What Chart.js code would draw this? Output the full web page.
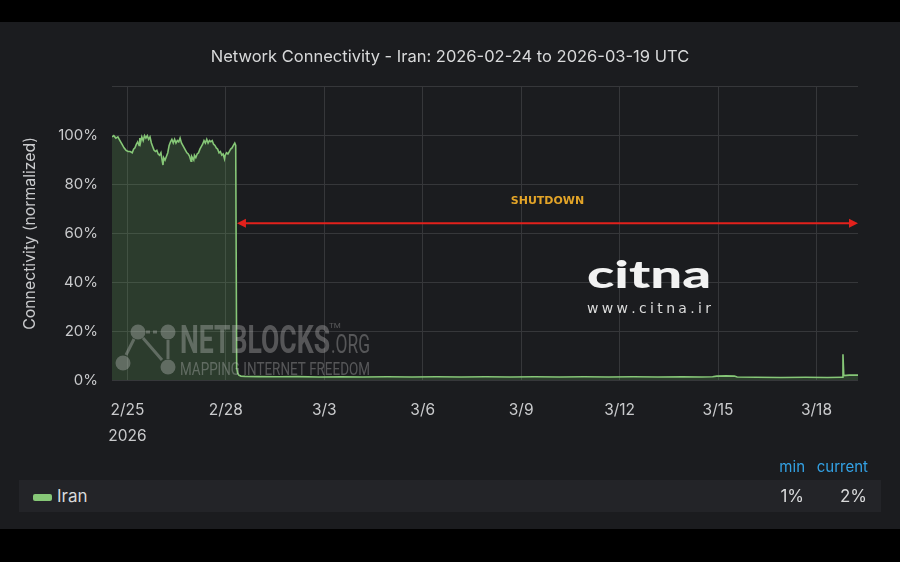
<!DOCTYPE html>
<html>
<head>
<meta charset="utf-8">
<script src="https://cdn.jsdelivr.net/npm/chart.js@4.4.1/dist/chart.umd.min.js"></script>
<style>
  html, body { margin: 0; padding: 0; background: #000; }
  body { width: 900px; height: 562px; position: relative; overflow: hidden; font-family: Inter, Roboto, sans-serif; }
  #panel { position: absolute; left: 0; top: 22px; width: 900px; height: 507px; background: #1b1c1f; }
  #wrap { position: absolute; left: 0; top: 0; width: 900px; height: 440px; }
  .head { position: absolute; top: 458px; font-size: 15px; line-height: 18px; color: #33a2e5; }
  #legendRow { position: absolute; left: 19px; top: 480px; width: 862px; height: 32px; background: #232428; }
  #legendRow span { position: absolute; top: 7px; font-size: 17px; line-height: 18px; color: #d8d9da; }
  #legendRow .swatch { left: 14px; top: 14px; width: 19px; height: 7px; border-radius: 2px; background: #86c777; }
</style>
</head>
<body>
<div id="panel">
  <div id="wrap"><canvas id="lineChart"></canvas></div>
</div>
<div class="head" style="right:95px">min</div>
<div class="head" style="right:32px">current</div>
<div id="legendRow">
  <span class="swatch"></span>
  <span style="left:38px">Iran</span>
  <span id="minVal" style="right:77px"></span>
  <span id="curVal" style="right:14px"></span>
</div>

<script>
var linecolor = "#86c777";
var gridcolor = "#36373a";
var textcolor = "#c9cacc";
var fontname = "Inter";

// x values are hours since 2026-02-25 00:00 UTC
const xMin = -11.3;
const xMax = 534.4;
const tickHours = [0, 72, 144, 216, 288, 360, 432, 504];
const tickLabels = ["2/25", "2/28", "3/3", "3/6", "3/9", "3/12", "3/15", "3/18"];
const yearLabel = "2026";
const yTicks = [0, 20, 40, 60, 80, 100];

const hours = [
    -11.3, -10, -8.5, -7, -5.5, -4, -2.5, -1, 0.5, 2, 3.5, 4.5, 5.5, 6.5, 7.5, 8.5, 9, 9.5,
    10.5, 11.5, 12.5, 13.5, 14.5, 15.5, 16.5, 17.5, 18.5, 19.5, 20.5, 21.5, 22.5, 23.5, 24.5,
    25.5, 26, 26.5, 27.5, 28.5, 29.5, 30.5, 31.5, 32.5, 33.5, 34.5, 35.5, 36.5, 37.5, 38.5,
    39.5, 40.5, 41.5, 42.5, 43.5, 44.5, 45.5, 46.5, 47, 47.5, 48.5, 49, 50, 51, 52, 53, 54,
    55, 56, 57, 58, 59, 60, 61, 62, 63, 64, 65, 66, 67, 68, 69, 70, 71, 71.5, 72.5, 73.5,
    74.5, 75.5, 76.5, 77.5, 78.5, 79.2, 79.9, 80.6, 81.5, 83,
    86, 96, 110, 124, 140, 156, 172, 190, 208, 226, 244, 262, 280, 298, 316, 334, 352, 370,
    388, 406, 420, 428, 431, 438, 444, 446, 460, 478, 496, 512, 522.8, 523.4, 524, 528, 534.4
];
const iran = [
    99.5, 100, 99, 99.5, 98, 96.5, 95, 94, 93.5, 93.5, 93, 94.5, 95, 96.5, 97.5, 96, 99, 97,
    99.5, 98, 100, 99, 100, 98.5, 99.5, 97, 95.5, 94, 93.5, 94, 92.5, 92, 93,
    89.5, 88, 91, 90, 91.5, 93, 96, 97.5, 98.5, 97, 98.5, 97, 98, 97.5, 99,
    97, 96, 95, 94, 93, 92.5, 91.5, 89.5, 91.5, 91, 90, 92, 91, 92.5, 93, 94.5, 95.5,
    96.5, 98, 97, 98.5, 97, 98, 97.5, 98, 96.5, 96, 95, 94.5, 93, 93.5, 92, 92.5, 90.5, 92, 93, 92.5,
    93.5, 94.5, 95, 96, 97, 96, 5, 2.8, 2, 1.6,
    1.5, 1.4, 1.3, 1.4, 1.2, 1.3, 1.2, 1.3, 1.2, 1.3, 1.2, 1.3, 1.2, 1.3, 1.2, 1.3, 1.2, 1.3,
    1.2, 1.3, 1.2, 1.3, 1.6, 1.7, 1.6, 1.2, 1.1, 1.0, 1.1, 1.0, 1.1, 10.5, 1.8, 2.0, 2.0
];

// shutdown annotation (hours, %)
const shutdownFrom = 80.1;
const shutdownTo = 534.4;
const shutdownLevel = 64.2;
const shutdownText = "SHUTDOWN";

// legend values
var minV = Math.min.apply(null, iran);
document.getElementById("minVal").textContent = Math.round(minV) + "%";
document.getElementById("curVal").textContent = Math.round(iran[iran.length - 1]) + "%";

function fitText(ctx, text, x, y, w) {
    var m = ctx.measureText(text).width;
    ctx.save();
    ctx.translate(x, y);
    ctx.scale(w / m, 1);
    ctx.fillText(text, 0, 0);
    ctx.restore();
}

function spreadText(ctx, text, x, y, w) {
    var widths = text.split("").map(c => ctx.measureText(c).width);
    var total = widths.reduce((a, b) => a + b, 0);
    var gap = (w - total) / (text.length - 1);
    var cx = x;
    for (var i = 0; i < text.length; i++) {
        ctx.fillText(text[i], cx, y);
        cx += widths[i] + gap;
    }
}

//////////////////////////
// overlays: watermarks + shutdown arrow
//////////////////////////
const overlays = {
    id: "overlays",
    afterDatasetsDraw(chart) {
        const ctx = chart.ctx;
        const xs = chart.scales.x, ys = chart.scales.y;
        ctx.save();

        // netblocks watermark
        var wm = "rgba(205,205,205,0.33)";
        ctx.fillStyle = wm;
        ctx.strokeStyle = wm;
        ctx.lineWidth = 3;
        var nodes = [[138, 310], [168, 310], [123, 341], [168, 345]];
        ctx.beginPath();
        ctx.moveTo(134, 317); ctx.lineTo(126, 333);
        ctx.moveTo(143, 316); ctx.lineTo(162, 338);
        ctx.moveTo(168, 318); ctx.lineTo(168, 337);
        ctx.stroke();
        ctx.setLineDash([4, 3]);
        ctx.beginPath();
        ctx.moveTo(146, 310); ctx.lineTo(160, 310);
        ctx.stroke();
        ctx.setLineDash([]);
        nodes.forEach(n => { ctx.beginPath(); ctx.arc(n[0], n[1], 7.5, 0, Math.PI * 2); ctx.fill(); });
        ctx.textBaseline = "alphabetic";
        ctx.textAlign = "left";
        ctx.font = "bold 39px Roboto";
        fitText(ctx, "NETBLOCKS", 180, 331, 150);
        ctx.font = "25px Roboto";
        fitText(ctx, ".ORG", 331, 331, 39);
        ctx.font = "8px Roboto";
        ctx.fillText("TM", 329, 306);
        ctx.font = "18px Roboto";
        fitText(ctx, "MAPPING INTERNET FREEDOM", 180, 353, 190);

        // citna logo
        ctx.fillStyle = "#f2f2f2";
        ctx.font = "900 38px Lato";
        fitText(ctx, "citna", 587, 266, 124);
        ctx.fillStyle = "#dcdcdc";
        ctx.font = "14px 'DejaVu Sans'";
        spreadText(ctx, "www.citna.ir", 587, 291, 124);

        // shutdown arrow
        var x1 = xs.getPixelForValue(shutdownFrom);
        var x2 = xs.getPixelForValue(shutdownTo);
        var y = ys.getPixelForValue(shutdownLevel);
        ctx.strokeStyle = "#e3211c";
        ctx.fillStyle = "#e3211c";
        ctx.lineWidth = 2;
        ctx.beginPath();
        ctx.moveTo(x1 + 6, y); ctx.lineTo(x2 - 6, y);
        ctx.stroke();
        ctx.beginPath();
        ctx.moveTo(x1, y); ctx.lineTo(x1 + 9, y - 4.5); ctx.lineTo(x1 + 9, y + 4.5); ctx.closePath();
        ctx.moveTo(x2, y); ctx.lineTo(x2 - 9, y - 4.5); ctx.lineTo(x2 - 9, y + 4.5); ctx.closePath();
        ctx.fill();
        ctx.fillStyle = "#e3a428";
        ctx.font = "bold 11px 'DejaVu Sans'";
        ctx.textAlign = "center";
        ctx.textBaseline = "middle";
        ctx.fillText(shutdownText, (x1 + x2) / 2, y - 22);
        ctx.restore();
    }
};

//////////////////////////
// linechart
//////////////////////////
function loadLineChart() {
    const data = {
        datasets: [{
            label: "Iran",
            data: hours.map((h, i) => ({ x: h, y: iran[i] })),
            fill: "origin",
            backgroundColor: "rgba(115, 191, 105, 0.2)",
            borderColor: linecolor,
            borderWidth: 1.6,
            tension: 0,
            pointRadius: 0
        }]
    };
    const config = {
        type: "line",
        data: data,
        plugins: [overlays],
        options: {
            responsive: true,
            maintainAspectRatio: false,
            animation: false,
            layout: { padding: 0 },
            plugins: {
                legend: { display: false },
                tooltip: { enabled: false },
                title: {
                    display: true,
                    text: "Network Connectivity - Iran: 2026-02-24 to 2026-03-19 UTC",
                    color: "#d8d9da",
                    font: { family: fontname, size: 16.5, weight: "normal" },
                    padding: { top: 25, bottom: 20 }
                }
            },
            scales: {
                x: {
                    type: "linear",
                    min: xMin,
                    max: xMax,
                    afterBuildTicks: function (scale) {
                        scale.ticks = tickHours.map(v => ({ value: v }));
                    },
                    afterFit: function (scale) {
                        scale.height = 82;
                        scale.paddingRight = 42;
                    },
                    grid: { color: gridcolor, drawTicks: false },
                    border: { display: false },
                    ticks: {
                        autoSkip: false,
                        maxRotation: 0,
                        padding: 18,
                        color: textcolor,
                        font: { family: fontname, size: 15.5, lineHeight: 1.65 },
                        callback: function (value) {
                            var i = tickHours.indexOf(value);
                            return i === 0 ? [tickLabels[0], yearLabel] : tickLabels[i];
                        }
                    }
                },
                y: {
                    min: 0,
                    max: 120,
                    afterBuildTicks: function (scale) {
                        scale.ticks = yTicks.concat([120]).map(v => ({ value: v }));
                    },
                    afterFit: function (scale) { scale.width = 112; },
                    grid: { color: gridcolor, drawTicks: false },
                    border: { display: false },
                    title: {
                        display: true,
                        text: "Connectivity (normalized)",
                        color: textcolor,
                        font: { family: fontname, size: 15.8 },
                        padding: { top: 21, bottom: 0 }
                    },
                    ticks: {
                        padding: 14,
                        color: textcolor,
                        font: { family: fontname, size: 15 },
                        callback: function (value) {
                            return yTicks.indexOf(value) >= 0 ? value + "%" : "";
                        }
                    }
                }
            }
        }
    };
    return config;
}

const lineChart = document.getElementById("lineChart");
var myLineChart = new Chart(lineChart, loadLineChart());
</script>
</body>
</html>
